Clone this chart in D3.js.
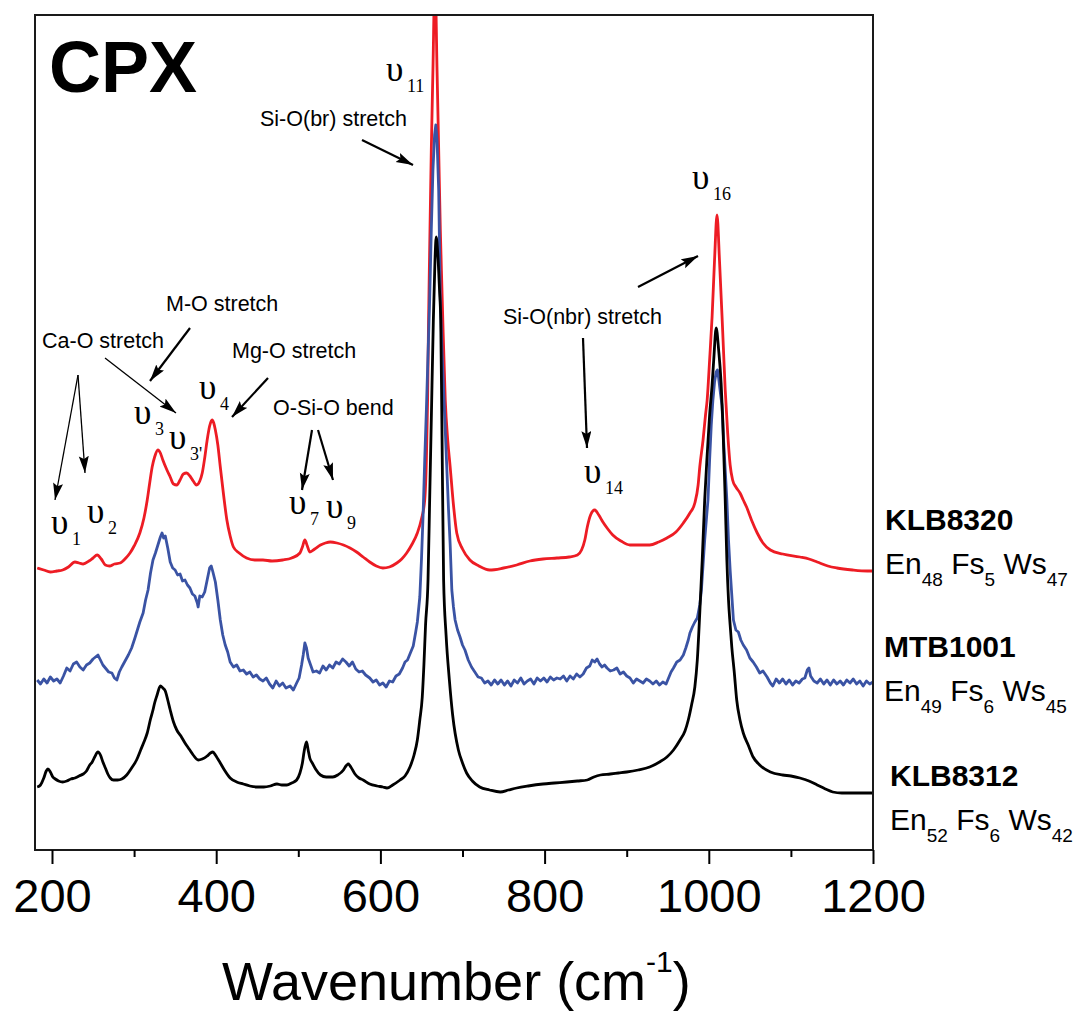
<!DOCTYPE html>
<html><head><meta charset="utf-8">
<script src="https://cdn.jsdelivr.net/npm/d3@7"></script>
<style>body{margin:0;background:#fff}svg{display:block}</style>
</head><body>
<svg id="chart" width="1082" height="1019"></svg>
<script>
// ---------------- data ----------------
const xDomain = [179.3, 1200];
const yDomain = [0, 835];            // intensity, arbitrary units (offset stacked)
const xMajorTicks = [200, 400, 600, 800, 1000, 1200];
const xMinorTicks = [300, 500, 700, 900, 1100];
const sampleNames = ["KLB8320", "MTB1001", "KLB8312"];
const compositions = [[48, 5, 47], [49, 6, 45], [52, 6, 42]];
const compLabels = ["En", "Fs", "Ws"];

// KLB8320 (red) : [wavenumber, intensity]
const redSpectrum = [
[182,282],[190,280],[198,278],[206,279],[213,280],[220,283],[228,288],[233,287],[238,286],[245,289],
[250,292],[255,295],[260,291],[265,285],[270,284],[276,286],[283,287],[290,292],[295,297],[300,304],
[307,317],[312,332],[316,350],[319,367],[322,383],[325,393],[329,400],[332,397],[335,390],[340,380],
[344,373],[348,366],[352,365],[356,370],[360,376],[364,377],[368,374],[372,369],[376,365],[380,369],
[383,377],[386,392],[389,410],[392,424],[395,430],[397,427],[399,420],[402,405],[405,383],[409,355],
[413,330],[417,314],[421,303],[428,297],[437,292],[447,290],[457,290],[468,289],[481,290],[492,292],
[502,297],[505,303],[508,310],[511,304],[514,298],[520,301],[527,305],[533,307],[539,308],[547,307],
[555,305],[563,302],[571,298],[579,293],[587,288],[595,284],[603,282],[611,283],[620,287],[626,291],
[632,297],[638,305],[645,317],[650,331],[654,350],[656,390],[657.5,450],[658.5,520],[660,600],[662,700],
[664,780],[666.5,875],[669,780],[671,700],[673,620],[675,560],[676,530],[679,450],[682,410],[685,383],
[689,345],[693,317],[700,301],[709,290],[720,284],[733,280],[750,282],[766,285],[782,289],[798,291],
[815,292],[830,293],[840,295],[845,300],[849,310],[852,323],[856,335],[861,340],[866,335],[871,328],
[877,321],[883,315],[893,309],[904,305],[916,305],[928,305],[939,308],[949,312],[960,318],[969,327],
[977,337],[983,347],[987,365],[989,383],[993,410],[996,435],[998,450],[1001,490],[1004,533],[1007,590],
[1010,635],[1013,590],[1017,517],[1020,460],[1023,417],[1026,385],[1029,370],[1033,363],[1038,357],[1042,350],
[1046,343],[1052,330],[1059,317],[1066,307],[1075,300],[1090,296],[1111,293],[1122,291],[1132,288],[1145,284],
[1156,282],[1175,280],[1193,279],[1200,279]
];

// MTB1001 (blue)
const blueSpectrum = [
[182,170],[186,166],[190,171],[194,167],[198,173],[202,169],[206,171],[210,167],[214,174],[218,182],
[222,179],[226,186],[230,188],[234,183],[238,180],[242,185],[246,187],[250,191],[253,193],[256,195],
[259,190],[262,185],[265,182],[269,178],[273,177],[276,172],[279,170],[282,178],[285,183],[289,189],
[293,195],[297,202],[301,212],[304,220],[307,228],[311,237],[314,250],[317,260],[320,277],[323,290],
[326,297],[329,305],[332,313],[334,317],[336,312],[338,314],[341,302],[344,288],[347,282],[350,280],
[353,275],[356,276],[359,269],[362,270],[365,265],[368,262],[371,256],[374,254],[377,247],[378,243],
[380,254],[383,253],[386,258],[389,270],[392,282],[394,284],[396,278],[399,268],[402,250],[405,230],
[408,215],[411,205],[414,198],[417,188],[421,183],[425,185],[429,179],[433,180],[437,176],[441,178],
[445,173],[449,175],[453,171],[457,169],[461,172],[465,166],[469,162],[473,169],[477,164],[481,167],
[485,162],[490,164],[494,160],[498,167],[501,172],[504,185],[506,195],[508,207],[510,202],[512,192],
[515,185],[518,178],[522,179],[526,177],[530,184],[534,180],[538,185],[542,182],[546,188],[550,186],
[554,191],[558,188],[562,184],[566,188],[570,181],[574,178],[578,179],[582,175],[587,172],[591,168],
[595,170],[599,165],[603,167],[607,163],[611,169],[615,168],[619,174],[623,176],[627,182],[630,188],
[633,190],[636,196],[640,204],[643,218],[645,228],[648,253],[650,290],[652,335],[654,390],[656,440],
[658,495],[660,550],[662,620],[664,680],[666,715],[667.5,725],[669,710],[671,660],[673,550],[675,500],
[677,460],[680,400],[683,340],[685,305],[687,260],[689,243],[691,230],[694,220],[697,213],[700,205],
[703,200],[707,190],[711,183],[715,178],[719,173],[723,172],[727,167],[731,169],[735,165],[739,170],
[743,166],[747,170],[751,165],[755,169],[759,164],[763,170],[767,167],[771,172],[775,166],[779,169],
[783,171],[787,166],[791,172],[795,169],[799,172],[803,168],[807,173],[811,170],[815,172],[819,171],
[823,174],[827,169],[831,174],[835,171],[839,176],[843,173],[847,176],[851,182],[855,184],[858,190],
[861,188],[864,191],[867,186],[870,183],[873,185],[876,182],[880,179],[884,180],[888,182],[892,176],
[896,178],[900,174],[904,172],[908,167],[912,171],[916,169],[920,167],[924,171],[928,169],[932,166],
[936,169],[940,165],[944,168],[948,166],[951,172],[954,178],[957,182],[961,188],[965,190],[969,195],
[972,202],[975,210],[977,217],[980,223],[983,228],[986,232],[989,245],[991,260],[993,285],[995,310],
[997,330],[999,350],[1001,390],[1003,425],[1005,450],[1007,468],[1009,478],[1010.5,480],[1012,472],[1014,458],
[1016,445],[1018,410],[1020,380],[1022,350],[1024,310],[1026,280],[1028,255],[1030,230],[1033,220],[1036,218],
[1039,210],[1042,205],[1046,200],[1050,192],[1054,188],[1058,183],[1062,177],[1066,179],[1071,173],[1075,167],
[1078,164],[1082,171],[1086,167],[1090,171],[1094,166],[1098,170],[1102,165],[1106,169],[1110,167],[1114,171],
[1117,172],[1120,180],[1122,182],[1124,174],[1128,169],[1132,167],[1136,171],[1140,166],[1144,170],[1148,165],
[1152,170],[1156,166],[1160,169],[1164,165],[1168,170],[1172,167],[1176,171],[1180,166],[1184,169],[1188,164],
[1192,169],[1196,166],[1200,168]
];

// KLB8312 (black)
const blackSpectrum = [
[182,63],[186,65],[190,72],[193,79],[195,81],[198,78],[201,73],[204,71],[208,69],[213,68],
[218,69],[223,71],[228,72],[233,74],[238,76],[242,79],[246,85],[249,88],[252,93],[256,98],
[259,95],[262,88],[265,82],[268,76],[271,72],[275,70],[280,70],[285,71],[291,75],[297,82],
[303,90],[308,100],[312,108],[316,117],[320,131],[323,140],[325,147],[328,155],[332,164],[335,162],
[338,159],[341,150],[344,140],[348,128],[352,120],[357,114],[362,107],[367,101],[372,95],[378,90],
[383,91],[389,94],[393,97],[396,98],[399,95],[402,91],[405,87],[410,80],[417,72],[425,68],
[433,66],[441,64],[450,63],[458,63],[466,64],[474,66],[480,65],[486,65],[492,67],[498,70],
[502,77],[505,87],[507,98],[510,108],[512,100],[514,92],[517,87],[521,81],[527,75],[534,73],
[542,73],[548,75],[555,80],[558,84],[561,86],[564,83],[569,76],[574,72],[579,70],[587,66],
[596,64],[603,63],[608,62],[615,65],[624,70],[630,74],[636,83],[641,95],[645,110],[648,130],
[651,153],[653,185],[655,225],[658,270],[660,350],[662,430],[664.5,530],[666.5,590],[668,613],[670,595],
[672,560],[673.5,530],[675,420],[677,270],[680,215],[684,170],[688,135],[695,100],[700,87],[705,77],
[712,69],[721,63],[733,60],[746,58],[756,60],[766,62],[780,64],[798,66],[812,67],[827,68],
[840,69],[852,70],[860,73],[868,75],[880,76],[890,77],[900,78],[914,80],[928,83],[940,88],
[949,93],[957,100],[965,110],[971,119],[975,130],[979,145],[983,163],[986,190],[989,237],[992,290],
[995,350],[998,395],[1001,435],[1004,465],[1006,490],[1009,522],[1012,500],[1015,467],[1017,430],[1020,350],
[1022,290],[1024,250],[1026,225],[1028,203],[1031,178],[1034,150],[1038,130],[1042,117],[1048,105],[1054,93],
[1062,85],[1075,78],[1090,75],[1100,74],[1111,72],[1122,69],[1132,65],[1142,61],[1151,58],[1162,57],
[1172,57],[1185,57],[1200,57]
];

// ---------------- layout ----------------
const plot = {left: 35, right: 873, top: 15, bottom: 850};
const svg = d3.select("#chart");
const SANS = "'Liberation Sans', Arial, sans-serif";
const SERIF = "'Liberation Serif', 'Times New Roman', serif";

const x = d3.scaleLinear().domain(xDomain).range([plot.left, plot.right]);
const y = d3.scaleLinear().domain(yDomain).range([plot.bottom, plot.top]);

const defs = svg.append("defs");
defs.append("clipPath").attr("id", "clip").append("rect")
  .attr("x", plot.left).attr("y", plot.top)
  .attr("width", plot.right - plot.left).attr("height", plot.bottom - plot.top);
defs.append("marker").attr("id", "head")
  .attr("markerUnits", "userSpaceOnUse")
  .attr("markerWidth", 18).attr("markerHeight", 12)
  .attr("refX", 17).attr("refY", 5).attr("orient", "auto")
  .append("path").attr("d", "M0,0 L17,5 L0,10 L3,5 Z").attr("fill", "#000");

// spectra
const lineSmooth = d3.line().x(d => x(d[0])).y(d => y(d[1])).curve(d3.curveMonotoneX);
const lineRaw = d3.line().x(d => x(d[0])).y(d => y(d[1]));
const g = svg.append("g").attr("clip-path", "url(#clip)");
g.append("path").datum(redSpectrum).attr("d", lineSmooth)
  .attr("fill", "none").attr("stroke", "#ed1c24").attr("stroke-width", 2.8).attr("stroke-linejoin", "round");
g.append("path").datum(blueSpectrum).attr("d", lineRaw)
  .attr("fill", "none").attr("stroke", "#3a53a4").attr("stroke-width", 2.8).attr("stroke-linejoin", "round");
g.append("path").datum(blackSpectrum).attr("d", lineSmooth)
  .attr("fill", "none").attr("stroke", "#000").attr("stroke-width", 2.8).attr("stroke-linejoin", "round");

// frame
svg.append("rect").attr("x", plot.left).attr("y", plot.top)
  .attr("width", plot.right - plot.left).attr("height", plot.bottom - plot.top)
  .attr("fill", "none").attr("stroke", "#1a1a1a").attr("stroke-width", 2);

// x axis
const ax = svg.append("g").attr("transform", `translate(0,${plot.bottom})`)
  .call(d3.axisBottom(x).tickValues(xMajorTicks).tickSize(14).tickSizeOuter(0).tickFormat(d3.format("d")));
ax.select(".domain").remove();
ax.selectAll(".tick line").attr("stroke", "#000").attr("stroke-width", 2);
ax.selectAll(".tick text").attr("y", 62).attr("dy", null)
  .style("font-family", SANS).style("font-size", "47px").attr("fill", "#000");
const axm = svg.append("g").attr("transform", `translate(0,${plot.bottom})`)
  .call(d3.axisBottom(x).tickValues(xMinorTicks).tickSize(7).tickSizeOuter(0).tickFormat(""));
axm.select(".domain").remove();
axm.selectAll(".tick line").attr("stroke", "#000").attr("stroke-width", 2);

// axis title
const t = svg.append("text").attr("x", 222).attr("y", 1000)
  .style("font-family", SANS).style("font-size", "54px").attr("fill", "#000");
t.append("tspan").text("Wavenumber (cm");
t.append("tspan").attr("dy", -28).style("font-size", "30px").text("-1");
t.append("tspan").attr("dy", 28).text(")");

// title CPX
svg.append("text").attr("x", 49).attr("y", 92).text("CPX")
  .style("font-family", SANS).style("font-size", "72px").style("font-weight", "bold");

// annotation texts
const annText = [
  {s: "Si-O(br) stretch", x: 260, y: 126},
  {s: "M-O stretch", x: 166, y: 311},
  {s: "Ca-O stretch", x: 42, y: 348},
  {s: "Mg-O stretch", x: 232, y: 358},
  {s: "O-Si-O bend", x: 273, y: 415},
  {s: "Si-O(nbr) stretch", x: 503, y: 324}
];
annText.forEach(a => svg.append("text").attr("x", a.x).attr("y", a.y).text(a.s)
  .style("font-family", SANS).style("font-size", "21.5px").attr("fill", "#000"));

// mode labels (upsilon with subscript)
const modes = [
  {sub: "11", x: 386, y: 81}, {sub: "16", x: 692, y: 189}, {sub: "14", x: 584, y: 483},
  {sub: "3", x: 134, y: 424}, {sub: "3'", x: 169, y: 449}, {sub: "4", x: 199, y: 399},
  {sub: "1", x: 51, y: 534}, {sub: "2", x: 87, y: 523}, {sub: "7", x: 289, y: 514}, {sub: "9", x: 326, y: 518}
];
modes.forEach(m => {
  svg.append("text").attr("x", m.x).attr("y", m.y).text("\u03C5")
    .style("font-family", SERIF).style("font-size", "35px");
  svg.append("text").attr("x", m.x + 21).attr("y", m.y + 11).text(m.sub)
    .style("font-family", SERIF).style("font-size", "18px");
});

// arrows
const arrows = [
  {a: [362, 140], b: [413, 165], w: 2.2},
  {a: [190, 328], b: [150, 381], w: 2.2},
  {a: [105, 358], b: [176, 413], w: 1.3},
  {a: [78, 375], b: [55, 500], w: 1.3},
  {a: [78, 375], b: [85, 473], w: 1.3},
  {a: [268, 378], b: [232, 417], w: 2.2},
  {a: [312, 430], b: [302, 490], w: 2.2},
  {a: [318, 430], b: [333, 480], w: 2.2},
  {a: [583, 338], b: [587, 448], w: 2.2},
  {a: [638, 287], b: [698, 256], w: 2.2}
];
arrows.forEach(r => svg.append("line")
  .attr("x1", r.a[0]).attr("y1", r.a[1]).attr("x2", r.b[0]).attr("y2", r.b[1])
  .attr("stroke", "#000").attr("stroke-width", r.w).attr("marker-end", "url(#head)"));

// sample labels
const labelPos = [{x: 885, ny: 530, cy: 574}, {x: 884, ny: 657, cy: 701}, {x: 890, ny: 786, cy: 830}];
sampleNames.forEach((name, i) => {
  const p = labelPos[i];
  svg.append("text").attr("x", p.x).attr("y", p.ny).text(name)
    .style("font-family", SANS).style("font-size", "30px").style("font-weight", "bold");
  const c = svg.append("text").attr("x", p.x).attr("y", p.cy)
    .style("font-family", SANS).style("font-size", "30px");
  compositions[i].forEach((v, k) => {
    c.append("tspan").attr("dy", k === 0 ? 0 : -12).text((k === 0 ? "" : " ") + compLabels[k]);
    c.append("tspan").attr("dy", 12).style("font-size", "19px").text(v);
  });
});
</script>
</body></html>
